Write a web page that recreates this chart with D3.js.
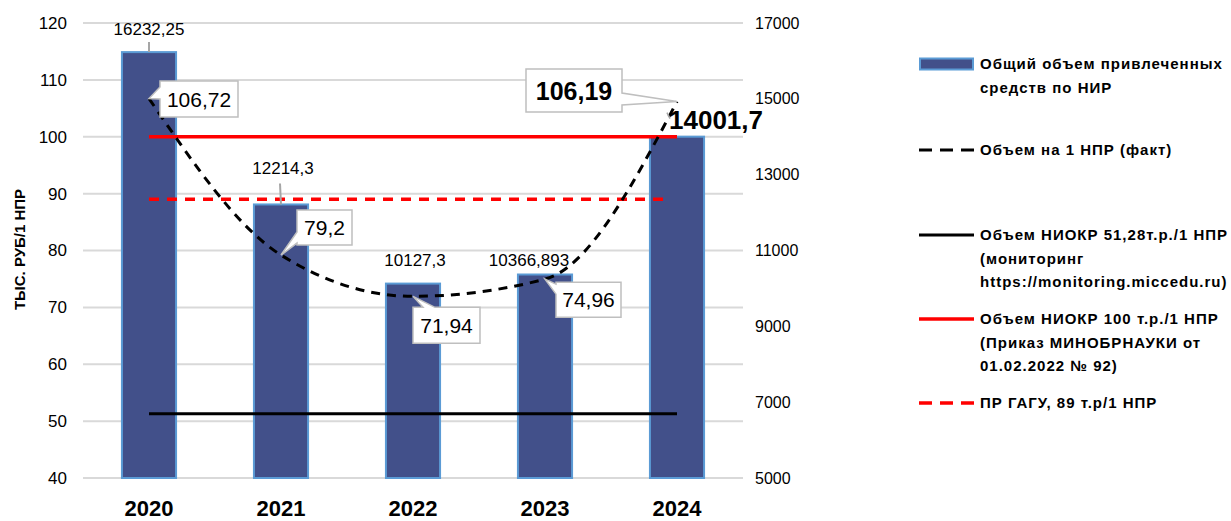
<!DOCTYPE html>
<html><head><meta charset="utf-8">
<script src="https://cdn.jsdelivr.net/npm/d3@7"></script>
<style>
html,body{margin:0;padding:0;background:#fff;}
svg{display:block;font-family:"Liberation Sans",Arial,sans-serif;}
</style></head>
<body><svg id="c" width="1231" height="521"></svg>
<script>
// ---- data ----
const years = ["2020","2021","2022","2023","2024"];
const totalFunds = [16232.25, 12214.3, 10127.3, 10366.893, 14001.7];
const totalLabels = ["16232,25","12214,3","10127,3","10366,893","14001,7"];
const perNpr = [106.72, 79.2, 71.94, 74.96, 106.19];
const perNprLabels = ["106,72","79,2","71,94","74,96","106,19"];
const monitoringLevel = 51.28;
const orderLevel = 100;
const gaguLevel = 89;
const leftTicks = [40,50,60,70,80,90,100,110,120];
const rightTicks = [5000,7000,9000,11000,13000,15000,17000];
const legendItems = [
  {type:"bar", lines:["Общий объем привлеченных","средств по НИР"]},
  {type:"blackDash", lines:["Объем на 1 НПР (факт)"]},
  {type:"black", lines:["Объем НИОКР 51,28т.р./1 НПР","(мониторинг","https://monitoring.miccedu.ru)"]},
  {type:"red", lines:["Объем НИОКР 100 т.р./1 НПР","(Приказ МИНОБРНАУКИ от","01.02.2022 № 92)"]},
  {type:"redDash", lines:["ПР ГАГУ, 89 т.р/1 НПР"]}
];

const svg = d3.select("#c");
const L = 83, R = 743, T = 23, B = 478;
const x = d3.scalePoint().domain(years).range([L,R]).padding(0.5);
const yL = d3.scaleLinear().domain([40,120]).range([B,T]);
const yR = d3.scaleLinear().domain([5000,17000]).range([B,T]);
const barW = x.step()*0.41;

const BAR_FILL = "#42508a", BAR_STROKE = "#5b9bd5", GRID = "#d9d9d9", RED = "#ff0000";

// gridlines
svg.append("g").selectAll("line").data(leftTicks).join("line")
  .attr("x1",L).attr("x2",R).attr("y1",d=>yL(d)).attr("y2",d=>yL(d))
  .attr("stroke",GRID).attr("stroke-width",2);

// left axis
const gl = svg.append("g").attr("transform",`translate(${L-16},0)`)
  .call(d3.axisLeft(yL).tickValues(leftTicks).tickSize(0).tickPadding(0));
gl.select(".domain").remove();
gl.selectAll("text").attr("font-size",17).attr("fill","#000").attr("font-family","Liberation Sans, Arial, sans-serif");

// right axis
const gr = svg.append("g").attr("transform",`translate(${R+12},0)`)
  .call(d3.axisRight(yR).tickValues(rightTicks).tickSize(0).tickPadding(0).tickFormat(d3.format("d")));
gr.select(".domain").remove();
gr.selectAll("text").attr("font-size",16).attr("fill","#000").attr("font-family","Liberation Sans, Arial, sans-serif");

// y title
svg.append("text").attr("transform",`translate(25,${(T+B)/2-1}) rotate(-90)`)
  .attr("text-anchor","middle").attr("font-size",15).attr("font-weight","bold")
  .text("ТЫС. РУБ/1 НПР");

// bars
svg.append("g").selectAll("rect").data(years).join("rect")
  .attr("x",d=>x(d)-barW/2).attr("width",barW)
  .attr("y",(d,i)=>yR(totalFunds[i])).attr("height",(d,i)=>B-yR(totalFunds[i]))
  .attr("fill",BAR_FILL).attr("stroke",BAR_STROKE).attr("stroke-width",2);

// x labels
svg.append("g").selectAll("text").data(years).join("text")
  .attr("x",d=>x(d)).attr("y",516).attr("text-anchor","middle")
  .attr("font-size",22).attr("font-weight","bold").text(d=>d);

// horizontal reference lines
const x0 = x(years[0]), x1 = x(years[years.length-1]);
svg.append("line").attr("x1",x0).attr("x2",x1).attr("y1",yL(monitoringLevel)).attr("y2",yL(monitoringLevel))
  .attr("stroke","#000").attr("stroke-width",3);
svg.append("line").attr("x1",x0).attr("x2",x1).attr("y1",yL(orderLevel)).attr("y2",yL(orderLevel))
  .attr("stroke",RED).attr("stroke-width",3.5);
svg.append("line").attr("x1",x0).attr("x2",x1-10).attr("y1",yL(gaguLevel)).attr("y2",yL(gaguLevel))
  .attr("stroke",RED).attr("stroke-width",3.5).attr("stroke-dasharray","10 8");

// dashed smoothed line
const line = d3.line().x(d=>x(d.y)).y(d=>yL(d.v)).curve(d3.curveMonotoneX);
svg.append("path").datum(years.map((y,i)=>({y,v:perNpr[i]})))
  .attr("d",line).attr("fill","none").attr("stroke","#000").attr("stroke-width",3)
  .attr("stroke-dasharray","9 7");

// bar value labels
const barLab = [
  {dx:0, dy:-17, lead:[-10,0], size:17, bold:false},
  {dx:2, dy:-30, lead:[-21,0], size:17, bold:false},
  {dx:2, dy:-18, lead:null, size:17, bold:false},
  {dx:-16, dy:-9, lead:null, size:17, bold:false},
  {dx:39, dy:-8, lead:[-24,-18], size:26, bold:true}
];
years.forEach((yr,i)=>{
  const cx = x(yr), cy = yR(totalFunds[i]), o = barLab[i];
  if(o.lead){
    if(i===4){
      svg.append("line").attr("x1",cx-10).attr("x2",cx-7).attr("y1",cy+o.lead[0]).attr("y2",cy+o.lead[1])
        .attr("stroke","#a6a6a6").attr("stroke-width",1.5);
    } else {
      svg.append("line").attr("x1",cx-(i===1?1:0)).attr("x2",cx).attr("y1",cy+o.lead[0]).attr("y2",cy+o.lead[1])
        .attr("stroke","#a6a6a6").attr("stroke-width",2);
    }
  }
  svg.append("text").attr("x",cx+o.dx).attr("y",cy+o.dy).attr("text-anchor","middle")
    .attr("font-size",o.size).attr("font-weight",o.bold?"bold":"normal").text(totalLabels[i]);
});

// callouts for per-NPR values
function calloutPath(bx,by,w,h,side,b1,b2,tx,ty){
  const p = d3.path();
  p.moveTo(bx,by);
  if(side==="top"){ p.lineTo(bx+b1,by); p.lineTo(tx,ty); p.lineTo(bx+b2,by); }
  p.lineTo(bx+w,by);
  if(side==="right"){ p.lineTo(bx+w,by+b1); p.lineTo(tx,ty); p.lineTo(bx+w,by+b2); }
  p.lineTo(bx+w,by+h);
  if(side==="bottom"){ p.lineTo(bx+b2,by+h); p.lineTo(tx,ty); p.lineTo(bx+b1,by+h); }
  p.lineTo(bx,by+h);
  if(side==="left"){ p.lineTo(bx,by+b2); p.lineTo(tx,ty); p.lineTo(bx,by+b1); }
  p.closePath();
  return p.toString();
}
const callouts = [
  {dx:11, dy:-17.5, w:78, h:36, side:"left", b1:6, b2:18, size:21, bold:false},
  {dx:16, dy:-45, w:55, h:35, side:"left", b1:22, b2:33, size:21, bold:false},
  {dx:0, dy:11, w:67, h:36, side:"top", b1:10, b2:22, size:21, bold:false},
  {dx:11, dy:3, w:65, h:35, side:"left", b1:2, b2:12, size:21, bold:false},
  {dx:-151, dy:-32.5, w:96, h:43, side:"right", b1:24, b2:36, size:25, bold:true}
];
years.forEach((yr,i)=>{
  const px = x(yr), py = yL(perNpr[i]), c = callouts[i];
  const bx = px+c.dx, by = py+c.dy;
  svg.append("path").attr("d",calloutPath(bx,by,c.w,c.h,c.side,c.b1,c.b2,px,py))
    .attr("fill","#fff").attr("stroke","#bfbfbf").attr("stroke-width",1.5);
  svg.append("text").attr("x",bx+c.w/2).attr("y",by+c.h/2).attr("dy","0.36em")
    .attr("text-anchor","middle").attr("font-size",c.size).attr("font-weight",c.bold?"bold":"normal")
    .text(perNprLabels[i]);
});

// legend
const legY = [64, 150, 235, 319, 403];
const lg = svg.append("g");
legendItems.forEach((it,i)=>{
  const cy = legY[i];
  if(it.type==="bar"){
    lg.append("rect").attr("x",920).attr("y",cy-5.5).attr("width",53).attr("height",11)
      .attr("fill",BAR_FILL).attr("stroke",BAR_STROKE).attr("stroke-width",2);
  } else {
    const col = (it.type==="red"||it.type==="redDash")?RED:"#000";
    const l = lg.append("line").attr("x1",919).attr("x2",974).attr("y1",cy).attr("y2",cy)
      .attr("stroke",col).attr("stroke-width",it.type.startsWith("red")?3.5:3);
    if(it.type.endsWith("Dash")) l.attr("stroke-dasharray","13 8");
  }
  it.lines.forEach((t,j)=>{
    lg.append("text").attr("x",980).attr("y",cy+j*23.5).attr("dy","0.36em")
      .attr("font-size",15).attr("letter-spacing","1px").attr("font-weight","bold").text(t);
  });
});
</script>
</body></html>
